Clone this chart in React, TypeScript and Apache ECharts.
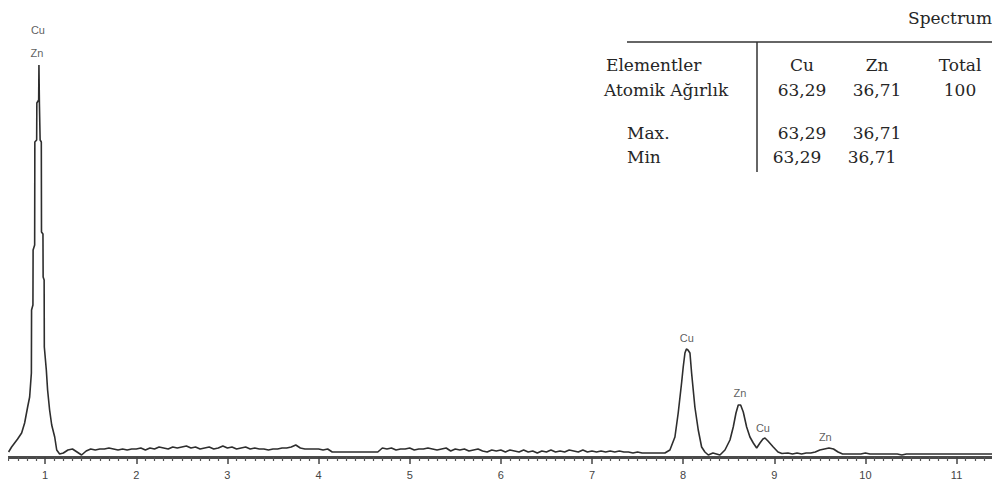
import React, { useEffect, useRef } from "react";
import * as echarts from "echarts";

// ---- Spectrum data (energy keV, counts) ----
const lLinePeak: [number, number][] = [
  [0.599, 5], [0.632, 10], [0.665, 14], [0.698, 18], [0.742, 24], [0.775, 34],
  [0.808, 50], [0.83, 60], [0.849, 84], [0.851, 147], [0.866, 152], [0.868, 207],
  [0.885, 212], [0.887, 315], [0.907, 317], [0.909, 354], [0.929, 357], [0.932, 392],
  [0.935, 392], [0.937, 354], [0.945, 317], [0.958, 315], [0.96, 225], [0.976, 223],
  [0.978, 180], [0.989, 177], [0.991, 110], [1.013, 87], [1.027, 67], [1.049, 47],
  [1.072, 32], [1.105, 20], [1.127, 7], [1.159, 3],
];

const lowBaseStart = 1.2;
const lowBaseStep = 0.05;
const lowBaseCounts = [
  4, 7, 8, 5, 2, 6, 8, 7, 8, 8, 9, 8, 7, 8, 7, 8,
  8, 9, 7, 9, 8, 10, 9, 8, 10, 9, 10, 11, 9, 10, 8, 9, 10, 8, 9, 11,
  9, 10, 8, 9, 10, 8, 9, 8, 8, 7, 8, 8, 9, 9, 10, 12, 9, 8, 8, 8,
  8, 7, 8, 5, 5, 5, 5, 5, 5, 5, 5, 5, 5, 5, 9, 8, 9, 7, 8, 8,
  9, 7, 8, 8, 9, 8, 7, 8, 9, 6, 8, 7, 8, 6, 7, 8, 6, 5, 7, 6,
  7, 5, 7, 6, 5, 7, 5, 6, 4, 6, 5, 7, 5, 6, 5, 7, 6, 5, 7, 5,
  6, 5, 6, 5, 6, 5, 6, 5, 5, 4, 5, 4, 4, 4, 4, 4, 4,
];

const kLinePeaks: [number, number][] = [
  [7.855, 7], [7.91, 20], [7.946, 44], [7.983, 74], [8.001, 90], [8.02, 104],
  [8.036, 108], [8.053, 107], [8.075, 104], [8.093, 84], [8.129, 50], [8.166, 27],
  [8.203, 10], [8.239, 5], [8.276, 2], [8.327, 4], [8.404, 2], [8.459, 7],
  [8.514, 17], [8.55, 30], [8.58, 44], [8.605, 52], [8.631, 52], [8.66, 45],
  [8.697, 30], [8.733, 20], [8.77, 14], [8.807, 9], [8.843, 14], [8.876, 18],
  [8.898, 19], [8.931, 16], [8.989, 10], [9.041, 5], [9.084, 3.5],
];

const highBaseStart = 9.15;
const highBaseStep = 0.05;
const highBaseCounts = [
  4, 3, 4, 3, 4, 4, 5, 7, 8, 9, 8, 5, 3, 3, 3, 3, 3, 4, 3, 3, 3, 3, 3, 3,
  3, 2, 3, 3, 3, 3, 3, 3, 3, 3, 3, 3, 3, 3, 3, 3, 3, 3, 3, 3, 3, 3,
];

const peakLabels = [
  { name: "Cu", e: 0.921, c: 427 },
  { name: "Zn", e: 0.91, c: 404 },
  { name: "Cu", e: 8.04, c: 119 },
  { name: "Zn", e: 8.623, c: 64 },
  { name: "Cu", e: 8.876, c: 29 },
  { name: "Zn", e: 9.56, c: 20 },
];

const xTickLabels = ["", "1", "2", "3", "4", "5", "6", "7", "8", "9", "10", "11"];

// ---- Table ----
const tableTitle = "Spectrum";
const tableColumns = ["Cu", "Zn", "Total"];
const tableRowNames = ["Elementler", "Atomik Ağırlık", "Max.", "Min"];
const atomicRow = ["63,29", "36,71", "100"];
const maxRow = ["63,29", "36,71"];
const minRow = ["63,29", "36,71"];

function buildSpectrum(): [number, number][] {
  const out: [number, number][] = [];
  lLinePeak.forEach((p) => out.push(p));
  lowBaseCounts.forEach((c, i) =>
    out.push([+(lowBaseStart + i * lowBaseStep).toFixed(3), c])
  );
  kLinePeaks.forEach((p) => out.push(p));
  highBaseCounts.forEach((c, i) =>
    out.push([+(highBaseStart + i * highBaseStep).toFixed(3), c])
  );
  return out;
}

export default function App() {
  const ref = useRef<HTMLDivElement>(null);

  useEffect(() => {
    if (!ref.current) return;
    const chart = echarts.init(ref.current, undefined, { renderer: "svg" });
    const serif = "DejaVu Serif";
    const tFont = 17;
    const tColor = "#262626";
    const txt = (text: string, x: number, y: number, align: string) => ({
      type: "text",
      x,
      y,
      z: 120,
      style: {
        text,
        fill: tColor,
        font: `${tFont}px "${serif}"`,
        textAlign: align,
        textVerticalAlign: "middle",
      },
    });
    const colX = [802, 877, 960];
    const graphic: any[] = [
      // hide axis segment left of the plot start
      { type: "rect", shape: { x: 0, y: 440, width: 8, height: 30 }, style: { fill: "#fff" }, z: 110 },
      txt(tableTitle, 908, 18, "left"),
      { type: "line", shape: { x1: 627, y1: 42, x2: 992, y2: 42 }, style: { stroke: "#333", lineWidth: 1.5 }, z: 120 },
      { type: "line", shape: { x1: 757, y1: 42, x2: 757, y2: 172 }, style: { stroke: "#333", lineWidth: 1.5 }, z: 120 },
      txt(tableRowNames[0], 606, 65, "left"),
      txt(tableRowNames[1], 604, 90, "left"),
      txt(tableRowNames[2], 627, 133, "left"),
      txt(tableRowNames[3], 627, 157, "left"),
    ];
    tableColumns.forEach((c, i) => graphic.push(txt(c, colX[i], 65, "center")));
    atomicRow.forEach((v, i) => graphic.push(txt(v, colX[i], 90, "center")));
    maxRow.forEach((v, i) => graphic.push(txt(v, colX[i], 133, "center")));
    minRow.forEach((v, i) => graphic.push(txt(v, colX[i] - 5, 157, "center")));

    chart.setOption({
      animation: false,
      grid: { left: -46, right: -1, top: 17, bottom: 27, containLabel: false, outerBoundsMode: "none" },
      xAxis: {
        type: "value",
        min: 0,
        max: 11.4,
        interval: 1,
        splitLine: { show: false },
        axisLine: { show: true, lineStyle: { color: "#4a4a4a", width: 3 } },
        axisTick: { show: true, length: 7, lineStyle: { color: "#444", width: 1.5 } },
        minorTick: { show: true, splitNumber: 10, length: 4, lineStyle: { color: "#555", width: 1.2 } },
        axisLabel: {
          margin: 12,
          fontSize: 11,
          color: "#444",
          fontFamily: "Liberation Sans",
          showMaxLabel: false,
          formatter: (v: number) => xTickLabels[Math.round(v)] ?? "",
        },
      },
      yAxis: {
        type: "value",
        min: 0,
        max: 440,
        show: false,
        splitLine: { show: false },
      },
      graphic,
      series: [
        {
          type: "line",
          data: buildSpectrum(),
          showSymbol: false,
          lineStyle: { color: "#2e2e2e", width: 1.6 },
          z: 5,
        },
        {
          type: "scatter",
          clip: false,
          symbolSize: 1,
          itemStyle: { color: "rgba(0,0,0,0)" },
          data: peakLabels.map((p) => ({ name: p.name, value: [p.e, p.c] })),
          label: {
            show: true,
            position: "inside",
            formatter: "{b}",
            fontSize: 11,
            color: "#333",
            textBorderWidth: 0,
            textBorderColor: "transparent",
            fontFamily: "Liberation Sans",
          },
          z: 6,
        },
      ],
    });
    return () => chart.dispose();
  }, []);

  return (
    <div
      ref={ref}
      style={{ position: "fixed", left: 0, top: 0, width: 992, height: 484, background: "#fff" }}
    />
  );
}
